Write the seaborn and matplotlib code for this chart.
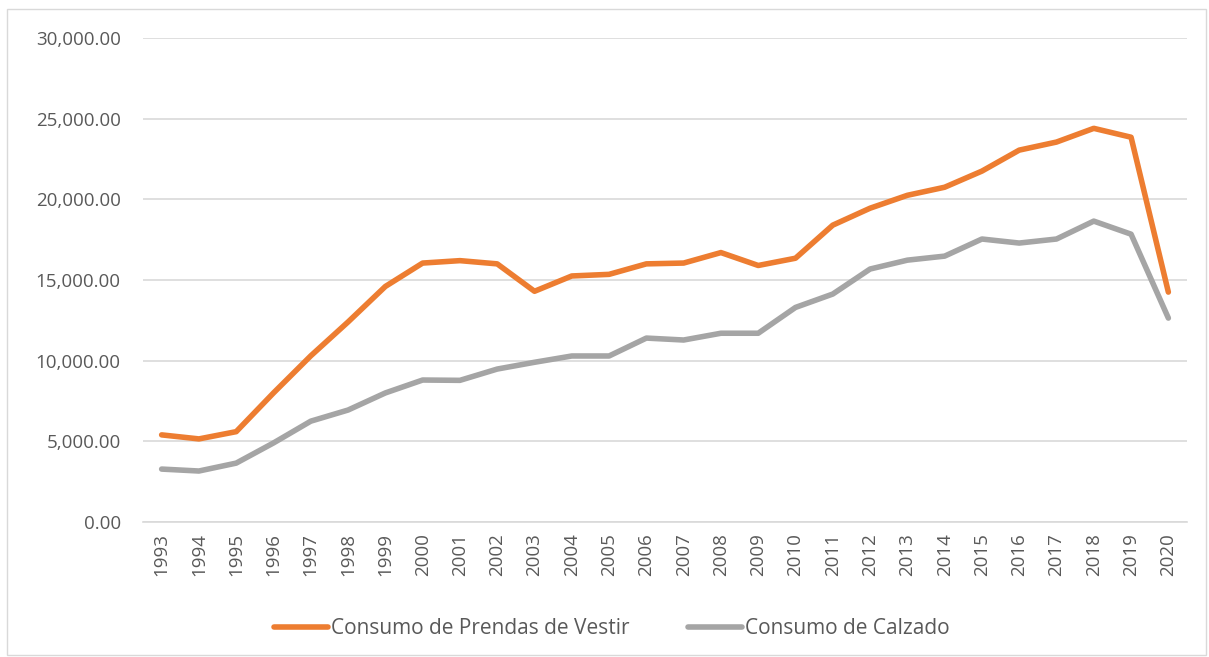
import numpy as np
import pandas as pd
import matplotlib
matplotlib.use("Agg")
import matplotlib.pyplot as plt
import seaborn as sns
from matplotlib.ticker import FuncFormatter
from matplotlib.patches import Rectangle

# datos
anios = list(range(1993, 2021))
prendas = [5400, 5150, 5600, 8000, 10300, 12400, 14600, 16050, 16200, 16000,
           14300, 15250, 15350, 16000, 16050, 16700, 15900, 16350, 18400, 19450,
           20250, 20750, 21750, 23050, 23550, 24400, 23850, 14250]
calzado = [3280, 3160, 3650, 4900, 6250, 6940, 8000, 8800, 8780, 9480,
           9900, 10290, 10290, 11400, 11280, 11700, 11700, 13300, 14130, 15680,
           16230, 16480, 17540, 17290, 17540, 18650, 17840, 12640]
series = ["Consumo de Prendas de Vestir", "Consumo de Calzado"]
colores = ["#ed7d31", "#a5a5a5"]

df = pd.DataFrame({
    "anio": anios * 2,
    "valor": prendas + calzado,
    "serie": [series[0]] * len(anios) + [series[1]] * len(anios),
})

sns.set_theme(style="white")
plt.rcParams["font.family"] = ["Open Sans", "DejaVu Sans"]
gris_texto = "#595959"

fig = plt.figure(figsize=(12.09, 6.57), dpi=100)
ax = fig.add_axes([143 / 1209, 1 - 522 / 657, (1187 - 143) / 1209, (522 - 38) / 657])

sns.lineplot(data=df, x="anio", y="valor", hue="serie", palette=colores,
             linewidth=4, ax=ax, legend=True)
for ln in ax.lines:
    ln.set_solid_capstyle("round")
    ln.set_solid_joinstyle("round")

ax.set_xlim(1992.5, 2020.5)
ax.set_ylim(0, 30000)
ax.set_yticks(np.arange(0, 30001, 5000))
ax.yaxis.set_major_formatter(FuncFormatter(lambda v, p: f"{v:,.2f}"))
ax.set_xticks(anios)
ax.set_xticklabels([str(a) for a in anios], rotation=90)
ax.tick_params(axis="both", length=0, labelsize=13.5, colors=gris_texto)
ax.tick_params(axis="y", pad=16)
ax.tick_params(axis="x", pad=8)
ax.grid(axis="y", color="#d9d9d9", linewidth=1.2)
ax.set_axisbelow(True)
for s in ["top", "right", "left"]:
    ax.spines[s].set_visible(False)
ax.spines["bottom"].set_color("#d9d9d9")
ax.spines["bottom"].set_linewidth(1.2)
ax.set_xlabel("")
ax.set_ylabel("")

handles, labels = ax.get_legend_handles_labels()
leg = ax.legend(handles, labels, loc="center", bbox_to_anchor=(0.449, -0.22),
                ncol=2, frameon=False, fontsize=15, labelcolor=gris_texto,
                handlelength=2.6, handletextpad=0.15, columnspacing=2.8)

fig.patches.append(Rectangle((7 / 1209, 2 / 657), 1199 / 1209, 646 / 657,
                             transform=fig.transFigure, fill=False,
                             edgecolor="#d9d9d9", linewidth=1))

fig.savefig("out.png", dpi=100, facecolor="white")
